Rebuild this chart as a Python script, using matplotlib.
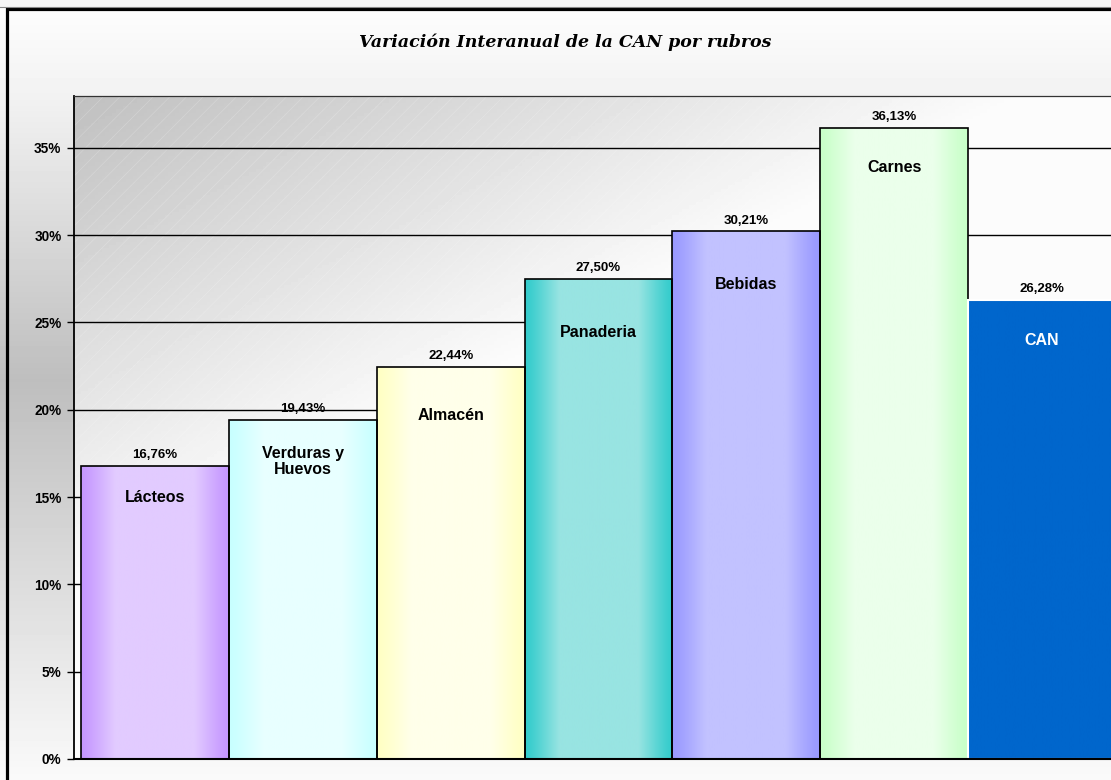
import matplotlib
matplotlib.use("Agg")
import matplotlib.pyplot as plt
from matplotlib.patches import Rectangle
from matplotlib.colors import to_rgb
from matplotlib.ticker import FuncFormatter
import numpy as np

# datos
rubros = ["Lácteos", "Verduras y\nHuevos", "Almacén", "Panaderia", "Bebidas", "Carnes", "CAN"]
variacion = [16.76, 19.43, 22.44, 27.50, 30.21, 36.13, 26.28]
yticks = [0, 5, 10, 15, 20, 25, 30, 35]

# colores borde / centro del degradado de cada barra
c_borde = ["#c597ff", "#c8ffff", "#ffffc4", "#33cccc", "#9999ff", "#c8ffc8", "#0066cc"]
c_centro = ["#e2cbff", "#e8ffff", "#ffffea", "#98e4e2", "#c2c2ff", "#ebffeb", "#0066cc"]
# bajada de la etiqueta del rubro respecto del tope (px)
baja_px = [31, 42, 48, 54, 53, 39, 40]

plt.rcParams['hatch.linewidth'] = 0.5
W, H = 1111, 780
fig = plt.figure(figsize=(W / 100, H / 100), dpi=100)

# fondo del marco (degradado vertical)
bg = fig.add_axes([0, 0, 1, 1], zorder=-5)
bg.set_axis_off()
yy = np.arange(H)
gris = np.interp(yy, [0, 10, 100, 380, 780], [250, 253, 241, 190, 250]) / 255.0
img = np.repeat(gris[:, None], 4, axis=1)
bg.imshow(img, cmap="gray", vmin=0, vmax=1, aspect="auto", extent=[0, 1, 0, 1],
          transform=bg.transAxes)
bg.set_xlim(0, 1)
bg.set_ylim(0, 1)
bg.add_patch(Rectangle((0, 1 - 8 / H), 1, 8 / H, transform=fig.transFigure,
                       facecolor="#f6f6f6", edgecolor="none", zorder=1))
bg.add_patch(Rectangle((6.5 / W, -0.1), 1.2, 1.1 - 9.5 / H + 0.0, transform=fig.transFigure,
                       facecolor="none", edgecolor="black", linewidth=2.3, zorder=2))
bg.plot([0, 1], [1 - 7 / H, 1 - 7 / H], color="#888888", lw=0.8, transform=fig.transFigure,
        zorder=2)

fig.text(565 / W, 1 - 42 / H, "Variación Interanual de la CAN por rubros",
         family="DejaVu Serif", style="italic", weight="bold", fontsize=12.5,
         ha="center", va="center")

# area de trazado
ax = fig.add_axes([74 / W, 21 / H, 1049 / W, 663 / H])
ax.set_xlim(-0.547, len(rubros) - 0.5 + 0.047)
ax.set_ylim(0, 37.97)

# degradado diagonal del fondo del area (fila 0 = arriba)
gx, gy = np.meshgrid(np.linspace(0, 1, 300), np.linspace(0, 1, 200))
g = np.clip(192 + 66 * gx + 80 * gy, 0, 252) / 255.0
ax.imshow(g, cmap="gray", vmin=0, vmax=1, aspect="auto", extent=[0, 1, 0, 1],
          origin="upper", transform=ax.transAxes, zorder=0)
ax.add_patch(Rectangle((0, 0), 1, 1, transform=ax.transAxes, facecolor="none",
                       edgecolor=(1, 1, 1, 0.22), hatch="//", linewidth=0, zorder=0.5))

for t in yticks[1:]:
    ax.axhline(t, color="black", lw=1.0, zorder=1)


def degradado(c1, c2, n=200):
    a = np.array(to_rgb(c1))
    b = np.array(to_rgb(c2))
    u = np.linspace(0, 1, n)
    k = np.clip(np.sin(np.pi * u) * 1.5, 0, 1) ** 1.3
    return (a[None, :] * (1 - k[:, None]) + b[None, :] * k[:, None])[None, :, :]


for i, (nom, v) in enumerate(zip(rubros, variacion)):
    es_can = nom == "CAN"
    bar = ax.bar(i, v, width=1.0, color="none",
                 edgecolor="white" if es_can else "black",
                 linewidth=1.5 if es_can else 1.2, zorder=3)[0]
    im = ax.imshow(degradado(c_borde[i], c_centro[i]), aspect="auto",
                   extent=[i - 0.5, i + 0.5, 0, v], zorder=2)
    im.set_clip_path(bar)
    ax.annotate(f"{v:.2f}".replace(".", ",") + "%", xy=(i, v), xytext=(0, 3.5),
                textcoords="offset points", ha="center", va="bottom",
                family="Liberation Sans", weight="bold", fontsize=9.5, zorder=5)
    ax.annotate(nom, xy=(i, v), xytext=(0, -baja_px[i] * 0.72),
                textcoords="offset points", ha="center", va="center",
                family="Liberation Sans", weight="bold", fontsize=11.5,
                color="white" if es_can else "black", linespacing=1.1, zorder=5)

ax.set_xticks([])
ax.set_yticks(yticks)
ax.yaxis.set_major_formatter(FuncFormatter(lambda y, p: f"{y:.0f}%"))
ax.tick_params(axis="y", direction="out", length=5, width=1, pad=4, labelsize=9.8)
for lab in ax.get_yticklabels():
    lab.set_family("Liberation Sans")
    lab.set_weight("bold")
for s in ["top", "right"]:
    ax.spines[s].set_color("#333333")
    ax.spines[s].set_linewidth(0.9)
ax.spines["left"].set_linewidth(1.3)
ax.spines["bottom"].set_linewidth(1.5)
ax.spines["bottom"].set_zorder(4)

fig.savefig("out.png", dpi=100)
